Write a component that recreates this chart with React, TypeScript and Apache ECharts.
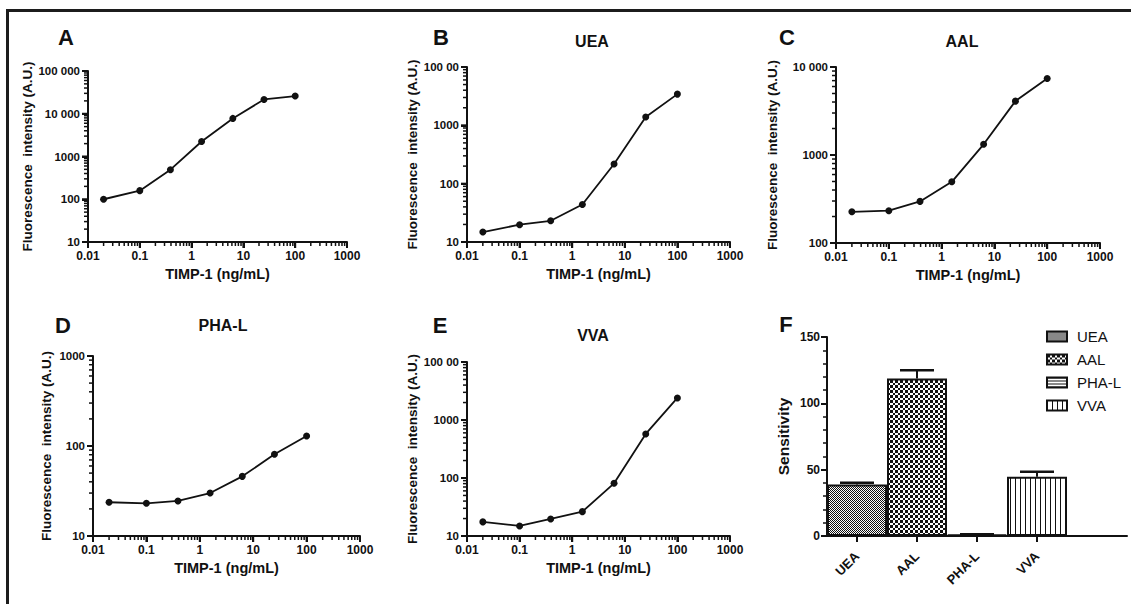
import React, { useEffect, useRef } from 'react';
import * as echarts from 'echarts';

// ---------- data ----------
const concentrations = [0.02, 0.1, 0.39, 1.56, 6.25, 25, 100];
const intensityA = [100, 159, 492, 2240, 7780, 21600, 25900];
const intensityUEA = [14.8, 19.8, 23.1, 44, 217, 1388, 3430];
const intensityAAL = [226, 233, 297, 496, 1322, 4093, 7410];
const intensityPHAL = [23.7, 23.1, 24.5, 30, 46, 80.8, 129];
const intensityVVA = [17.5, 14.9, 19.7, 26.3, 81, 575, 2400];

const xTickLabels = ['0.01', '0.1', '1', '10', '100', '1000'];
const yTickLabelsA = ['10', '100', '1000', '10 000', '100 000'];
const yTickLabelsB = ['10', '100', '1000', '100 00'];
const yTickLabelsC = ['100', '1000', '10 000'];
const yTickLabelsD = ['10', '100', '1000'];
const yTickLabelsE = ['10', '100', '1000', '100 00'];

const lectins = ['UEA', 'AAL', 'PHA-L', 'VVA'];
const sensitivity = [38.9, 118.7, 1.0, 44.7];
const sensitivityUpper = [40.2, 125, 1.3, 48.5];
const sensitivityTicks = ['0', '50', '100', '150'];

const FONT = '"Liberation Sans", Arial, Helvetica, sans-serif';
const INK = '#111';

function makePattern(w: number, h: number, draw: (ctx: CanvasRenderingContext2D) => void) {
  const c = document.createElement('canvas');
  c.width = w;
  c.height = h;
  const ctx = c.getContext('2d')!;
  ctx.fillStyle = '#fff';
  ctx.fillRect(0, 0, w, h);
  ctx.fillStyle = '#111';
  draw(ctx);
  return { image: c, repeat: 'repeat', imageWidth: w, imageHeight: h } as any;
}

export default function App() {
  const ref = useRef<HTMLDivElement>(null);

  useEffect(() => {
    document.body.style.margin = '0';
    const chart = echarts.init(ref.current!, null, { renderer: 'svg' });

    const patterns = [
      makePattern(2, 2, (ctx) => { ctx.fillRect(0, 0, 1, 1); ctx.fillRect(1, 1, 1, 1); }),
      makePattern(5, 5, (ctx) => { ctx.fillRect(0, 0, 3, 3); ctx.fillRect(3, 3, 2, 2); }),
      makePattern(4, 3, (ctx) => { ctx.fillRect(0, 0, 4, 1); }),
      makePattern(5, 4, (ctx) => { ctx.fillRect(0, 0, 1, 4); }),
    ];

    const panels = [
      { letter: 'A', title: '', data: intensityA, yMin: 10, yMax: 100000, yLabels: yTickLabelsA,
        grid: { left: 88, top: 71, width: 259, height: 171 }, yGap: 52, letterPos: [66, 37], titlePos: [0, 0] },
      { letter: 'B', title: 'UEA', data: intensityUEA, yMin: 10, yMax: 10000, yLabels: yTickLabelsB,
        grid: { left: 467, top: 67, width: 263, height: 175 }, yGap: 46, letterPos: [441, 37], titlePos: [592, 41] },
      { letter: 'C', title: 'AAL', data: intensityAAL, yMin: 100, yMax: 10000, yLabels: yTickLabelsC,
        grid: { left: 836, top: 67, width: 264, height: 176 }, yGap: 57, letterPos: [787, 37], titlePos: [962, 41] },
      { letter: 'D', title: 'PHA-L', data: intensityPHAL, yMin: 10, yMax: 1000, yLabels: yTickLabelsD,
        grid: { left: 93, top: 356, width: 267, height: 180 }, yGap: 40, letterPos: [63, 325], titlePos: [223, 325] },
      { letter: 'E', title: 'VVA', data: intensityVVA, yMin: 10, yMax: 10000, yLabels: yTickLabelsE,
        grid: { left: 467, top: 362, width: 263, height: 174 }, yGap: 44, letterPos: [440, 325], titlePos: [593, 335] },
    ];

    const grids: any[] = [];
    const xAxes: any[] = [];
    const yAxes: any[] = [];
    const series: any[] = [];
    const graphics: any[] = [];

    panels.forEach((p, i) => {
      grids.push({ ...p.grid });
      xAxes.push({
        type: 'log', logBase: 10, min: 0.01, max: 1000, gridIndex: i,
        axisLine: { show: true, lineStyle: { color: INK, width: 2 } },
        axisTick: { show: true, length: 6, lineStyle: { color: INK, width: 2 } },
        axisLabel: {
          color: INK, fontWeight: 'bold', fontSize: 12, margin: 8, fontFamily: FONT,
          formatter: (v: number) => xTickLabels[Math.round(Math.log10(v)) + 2] ?? '',
        },
        splitLine: { show: false },
        name: 'TIMP-1 (ng/mL)', nameLocation: 'middle', nameGap: 24,
        nameTextStyle: { color: INK, fontWeight: 'bold', fontSize: 14.5, fontFamily: FONT },
      });
      const base = Math.round(Math.log10(p.yMin));
      const top = Math.round(Math.log10(p.yMax));
      yAxes.push({
        type: 'log', logBase: 10, min: p.yMin, max: p.yMax, gridIndex: i,
        axisLine: { show: true, lineStyle: { color: INK, width: 2 } },
        axisTick: { show: true, length: 6, lineStyle: { color: INK, width: 2 } },
        axisLabel: {
          color: INK, fontWeight: 'bold', fontSize: 11.5, margin: 8, fontFamily: FONT,
          formatter: (v: number) => p.yLabels[Math.round(Math.log10(v)) - base] ?? '',
        },
        splitLine: { show: false },
        name: 'Fluorescence  intensity (A.U.)', nameLocation: 'middle', nameGap: p.yGap,
        nameTextStyle: { color: INK, fontWeight: 'bold', fontSize: 13.5, fontFamily: FONT },
      });
      series.push({
        type: 'line', xAxisIndex: i, yAxisIndex: i,
        data: concentrations.map((c, k) => [c, p.data[k]]),
        symbol: 'circle', symbolSize: 7,
        lineStyle: { color: INK, width: 1.8 },
        itemStyle: { color: INK },
        z: 3,
      });
      // log ticks: [x, y, orientation(0 = x axis, 1 = y axis), length]
      const ticks: number[][] = [];
      for (let k = -2; k < 3; k++) {
        ticks.push([Math.pow(10, k), p.yMin, 0, 6]);
        for (let m = 2; m <= 9; m++) ticks.push([m * Math.pow(10, k), p.yMin, 0, 4]);
      }
      ticks.push([1000, p.yMin, 0, 6]);
      for (let k = base; k < top; k++) {
        ticks.push([0.01, Math.pow(10, k), 1, 6]);
        for (let m = 2; m <= 9; m++) ticks.push([0.01, m * Math.pow(10, k), 1, 4]);
      }
      ticks.push([0.01, p.yMax, 1, 6]);
      series.push({
        type: 'custom', xAxisIndex: i, yAxisIndex: i, silent: true, clip: false, z: 100,
        data: ticks,
        renderItem: (_params: any, api: any) => {
          const pt = api.coord([api.value(0), api.value(1)]);
          const len = api.value(3);
          const major = len > 5;
          const onX = api.value(2) === 0;
          return {
            type: 'line',
            shape: onX
              ? { x1: pt[0], y1: pt[1], x2: pt[0], y2: pt[1] + len }
              : { x1: pt[0] - len, y1: pt[1], x2: pt[0], y2: pt[1] },
            style: { stroke: INK, lineWidth: major ? 2 : 1.5 },
            z2: 100,
          };
        },
      });
      graphics.push({
        type: 'text', x: p.letterPos[0], y: p.letterPos[1],
        style: { text: p.letter, fill: INK, font: `bold 22px ${FONT}`, align: 'center', verticalAlign: 'middle' },
      });
      if (p.title) {
        graphics.push({
          type: 'text', x: p.titlePos[0], y: p.titlePos[1],
          style: { text: p.title, fill: INK, font: `bold 16px ${FONT}`, align: 'center', verticalAlign: 'middle' },
        });
      }
    });

    // ---- panel F ----
    const fi = panels.length;
    const categoriesF = [...lectins, ''];
    grids.push({ left: 827, top: 337, width: 300, height: 199 });
    xAxes.push({
      type: 'category', gridIndex: fi, data: categoriesF,
      axisLine: { show: true, lineStyle: { color: INK, width: 2 } },
      axisTick: { show: true, alignWithLabel: true, interval: (idx: number) => idx < lectins.length, length: 6, lineStyle: { color: INK, width: 2 } },
      axisLabel: { interval: 0, rotate: 45, color: INK, fontWeight: 'bold', fontSize: 13, margin: 18, fontFamily: FONT },
      splitLine: { show: false },
    });
    yAxes.push({
      type: 'value', gridIndex: fi, min: 0, max: 150, interval: 50,
      axisLine: { show: true, lineStyle: { color: INK, width: 2 } },
      axisTick: { show: true, length: 6, lineStyle: { color: INK, width: 2 } },
      minorTick: { show: true, splitNumber: 5, length: 4, lineStyle: { color: INK, width: 1.5 } },
      axisLabel: {
        color: INK, fontWeight: 'bold', fontSize: 12, margin: 7, fontFamily: FONT,
        formatter: (v: number) => sensitivityTicks[Math.round(v / 50)] ?? '',
      },
      splitLine: { show: false },
      name: 'Sensitivity', nameLocation: 'middle', nameGap: 36,
      nameTextStyle: { color: INK, fontWeight: 'bold', fontSize: 15.5, fontFamily: FONT },
    });
    lectins.forEach((name, i) => {
      series.push({
        type: 'bar', name, xAxisIndex: fi, yAxisIndex: fi, stack: 'f', barCategoryGap: '0%',
        data: categoriesF.map((_c, j) => (j === i ? sensitivity[i] : '-')),
        itemStyle: { color: patterns[i], borderColor: INK, borderWidth: 2 },
        z: 2,
      });
    });
    // error bars
    series.push({
      type: 'custom', xAxisIndex: fi, yAxisIndex: fi, silent: true, z: 4,
      data: lectins.map((_n, i) => [i, sensitivity[i], sensitivityUpper[i]]),
      renderItem: (_params: any, api: any) => {
        const b = api.coord([api.value(0), api.value(1)]);
        const t = api.coord([api.value(0), api.value(2)]);
        const hw = 17;
        return {
          type: 'group',
          children: [
            { type: 'line', shape: { x1: b[0], y1: b[1], x2: t[0], y2: t[1] }, style: { stroke: INK, lineWidth: 2 } },
            { type: 'line', shape: { x1: t[0] - hw, y1: t[1], x2: t[0] + hw, y2: t[1] }, style: { stroke: INK, lineWidth: 2.5 } },
          ],
        };
      },
    });
    // category ticks for F drawn on top as well
    series.push({
      type: 'custom', xAxisIndex: fi, yAxisIndex: fi, silent: true, clip: false, z: 100,
      data: lectins.map((_n, i) => [i, 0]),
      renderItem: (_params: any, api: any) => {
        const pt = api.coord([api.value(0), api.value(1)]);
        return {
          type: 'line',
          shape: { x1: pt[0], y1: pt[1], x2: pt[0], y2: pt[1] + 6 },
          style: { stroke: INK, lineWidth: 2 },
          z2: 100,
        };
      },
    });
    graphics.push({
      type: 'text', x: 786, y: 324,
      style: { text: 'F', fill: INK, font: `bold 22px ${FONT}`, align: 'center', verticalAlign: 'middle' },
    });

    // outer frame
    graphics.push({ type: 'line', shape: { x1: 6, y1: 10.5, x2: 1131, y2: 10.5 }, style: { stroke: '#1c1c1c', lineWidth: 3 } });
    graphics.push({ type: 'line', shape: { x1: 7.5, y1: 9, x2: 7.5, y2: 604 }, style: { stroke: '#1c1c1c', lineWidth: 3 } });

    chart.setOption({
      animation: false,
      backgroundColor: '#fff',
      textStyle: { fontFamily: FONT },
      grid: grids,
      xAxis: xAxes,
      yAxis: yAxes,
      legend: {
        data: lectins, orient: 'vertical', left: 1041, top: 324,
        itemWidth: 20, itemHeight: 10, itemGap: 8, icon: 'rect', selectedMode: false,
        itemStyle: { borderColor: INK, borderWidth: 2 },
        textStyle: { color: INK, fontSize: 15, fontFamily: FONT, padding: [0, 0, 0, 5] },
      },
      series,
      graphic: graphics,
    });

    return () => chart.dispose();
  }, []);

  return <div ref={ref} style={{ width: 1131, height: 604 }} />;
}
